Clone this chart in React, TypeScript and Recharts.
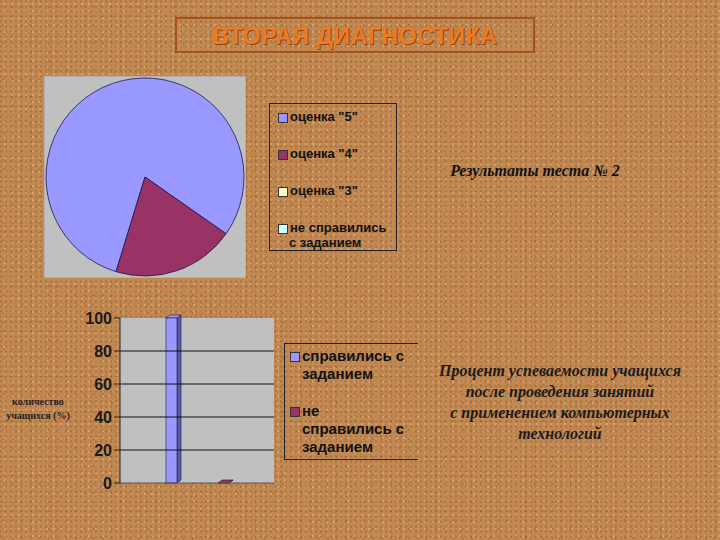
import { PieChart, Pie, Cell, BarChart, Bar, XAxis, YAxis, CartesianGrid, ReferenceLine } from "recharts";

// pie: results of test #2 (percent)
const pieLabels = ['оценка "5"', 'оценка "4"', 'оценка "3"', "не справились с заданием"];
const pieValues = [80, 20, 0, 0];
const pieColors = ["#9999FF", "#993366", "#FFFFCC", "#CCFFFF"];

// bars: share of pupils (%)
const barSeries = ["справились с заданием", "не справились с заданием"];
const barValues = [100, 0];
const barColors = ["#9999FF", "#993366"];
const yTicks = [0, 20, 40, 60, 80, 100];
const gridLines = [20, 40, 60, 80];

const pieData = pieLabels.map((name, i) => ({ name, value: pieValues[i] }));
const barData = [{ cat: "1", s0: barValues[0], s1: barValues[1] }];

const cork =
  "radial-gradient(circle at 20% 30%, rgba(120,70,30,0.35) 0.8px, transparent 1.4px)," +
  "radial-gradient(circle at 70% 60%, rgba(250,210,160,0.35) 0.8px, transparent 1.4px)," +
  "radial-gradient(circle at 40% 80%, rgba(110,60,25,0.3) 0.7px, transparent 1.3px)";

function Bar3D(props: any) {
  const { x, y, width, height, fill, side } = props;
  const dx = 4;
  const dy = 3;
  const h = Math.max(height || 0, 0);
  return (
    <g>
      <polygon
        points={`${x + width},${y} ${x + width + dx},${y - dy} ${x + width + dx},${y + h - dy} ${x + width},${y + h}`}
        fill={side}
        stroke="#1a1a40"
        strokeWidth={0.6}
      />
      <polygon
        points={`${x},${y} ${x + dx},${y - dy} ${x + width + dx},${y - dy} ${x + width},${y}`}
        fill={fill}
        stroke="#1a1a40"
        strokeWidth={0.6}
      />
      {h > 0 && <rect x={x} y={y} width={width} height={h} fill={fill} stroke="#1a1a40" strokeWidth={0.6} />}
    </g>
  );
}

function Marker({ color }: { color: string }) {
  return (
    <span
      style={{
        display: "inline-block",
        width: 8,
        height: 8,
        background: color,
        border: "1px solid #333",
        marginRight: 2,
        verticalAlign: "middle",
      }}
    />
  );
}

const legendFont: React.CSSProperties = {
  fontFamily: "Arial, 'Liberation Sans', sans-serif",
  fontWeight: "bold",
  color: "#111",
};

export default function App() {
  return (
    <div
      style={{
        position: "absolute",
        left: 0,
        top: 0,
        width: 720,
        height: 540,
        overflow: "hidden",
        backgroundColor: "#C28852",
        backgroundImage: cork,
        backgroundSize: "5px 5px, 7px 7px, 9px 9px",
      }}
    >
      {/* title */}
      <div
        style={{
          position: "absolute",
          left: 175,
          top: 17,
          width: 356,
          height: 32,
          border: "2px solid #A5521C",
          textAlign: "center",
          lineHeight: "34px",
          fontFamily: "Arial, 'Liberation Sans', sans-serif",
          fontWeight: "bold",
          fontSize: 23,
          letterSpacing: 0.6,
          color: "#EE7A22",
          textShadow: "1px 1px 0 #8E4412",
        }}
      >
        ВТОРАЯ ДИАГНОСТИКА
      </div>

      {/* pie */}
      <div style={{ position: "absolute", left: 44, top: 76, background: "#C0C0C0", border: "1px solid #B8B0A8" }}>
        <PieChart width={200} height={200} margin={{ top: 0, right: 0, bottom: 0, left: 0 }}>
          <Pie
            data={pieData}
            dataKey="value"
            cx="50%"
            cy="50%"
            outerRadius={99}
            startAngle={-35}
            endAngle={325}
            stroke="#1a1a50"
            strokeWidth={0.8}
            isAnimationActive={false}
            label={false}
            labelLine={false}
          >
            {pieData.map((d, i) => (
              <Cell key={d.name} fill={pieColors[i]} />
            ))}
          </Pie>
        </PieChart>
      </div>

      <div
        style={{
          ...legendFont,
          position: "absolute",
          left: 269,
          top: 103,
          width: 128,
          height: 148,
          border: "1px solid #222",
          fontSize: 13,
          lineHeight: "15px",
          boxSizing: "border-box",
        }}
      >
        {pieLabels.map((l, i) => (
          <div key={l} style={{ position: "absolute", left: 8, top: 5 + i * 37, whiteSpace: "nowrap" }}>
            <Marker color={pieColors[i]} />
            {i === 3 ? (
              <>
                не справились
                <br />
                <span style={{ paddingLeft: 11 }}>с заданием</span>
              </>
            ) : (
              l
            )}
          </div>
        ))}
      </div>

      <div
        style={{
          position: "absolute",
          left: 400,
          top: 162,
          width: 270,
          textAlign: "center",
          fontFamily: "'Liberation Serif', 'DejaVu Serif', serif",
          fontStyle: "italic",
          fontWeight: "bold",
          fontSize: 16,
          color: "#111",
        }}
      >
        Результаты теста № 2
      </div>

      {/* bars */}
      <div style={{ position: "absolute", left: 80, top: 300 }}>
        <BarChart
          width={200}
          height={200}
          data={barData}
          margin={{ top: 18, right: 6, bottom: 0, left: 0 }}
          barGap={41}
          barSize={11}
        >
          <CartesianGrid vertical={false} horizontal={false} fill="#C0C0C0" />
          {gridLines.map((v) => (
            <ReferenceLine key={v} y={v} stroke="#111" strokeWidth={1} />
          ))}
          <XAxis dataKey="cat" tick={false} height={17} stroke="#555" tickSize={4} />
          <YAxis
            domain={[0, 100]}
            ticks={yTicks}
            width={40}
            interval={0}
            stroke="#222"
            tickSize={6}
            tick={{ fontSize: 16, fontWeight: "bold", fill: "#1a1a1a", fontFamily: "Arial, 'Liberation Sans', sans-serif" }}
          />
          <Bar dataKey="s0" name={barSeries[0]} fill={barColors[0]} isAnimationActive={false} shape={(p: any) => <Bar3D {...p} side="#5C5CA8" />} />
          <Bar dataKey="s1" name={barSeries[1]} fill={barColors[1]} isAnimationActive={false} shape={(p: any) => <Bar3D {...p} side="#5E1F3E" />} />
        </BarChart>
      </div>

      <div
        style={{
          position: "absolute",
          left: 4,
          top: 395,
          width: 68,
          textAlign: "center",
          fontFamily: "'Liberation Serif', 'DejaVu Serif', serif",
          fontWeight: "bold",
          fontSize: 10,
          lineHeight: "14px",
          color: "#222",
        }}
      >
        количество
        <br />
        учащихся (%)
      </div>

      <div
        style={{
          ...legendFont,
          position: "absolute",
          left: 284,
          top: 343,
          width: 134,
          height: 117,
          borderTop: "1px solid #222",
          borderLeft: "1px solid #222",
          borderBottom: "1px solid #222",
          fontSize: 15,
          lineHeight: "18px",
          boxSizing: "border-box",
          overflow: "hidden",
        }}
      >
        <div style={{ position: "absolute", left: 5, top: 3, whiteSpace: "nowrap" }}>
          <Marker color={barColors[0]} />
          справились с
          <br />
          <span style={{ paddingLeft: 12 }}>заданием</span>
        </div>
        <div style={{ position: "absolute", left: 5, top: 58, whiteSpace: "nowrap" }}>
          <Marker color={barColors[1]} />
          не
          <br />
          <span style={{ paddingLeft: 12 }}>справились с</span>
          <br />
          <span style={{ paddingLeft: 12 }}>заданием</span>
        </div>
      </div>

      <div
        style={{
          position: "absolute",
          left: 420,
          top: 360,
          width: 280,
          textAlign: "center",
          fontFamily: "'Liberation Serif', 'DejaVu Serif', serif",
          fontStyle: "italic",
          fontWeight: "bold",
          fontSize: 16,
          lineHeight: "21px",
          color: "#1a1a1a",
        }}
      >
        Процент успеваемости учащихся
        <br />
        после проведения занятий
        <br />
        с применением компьютерных
        <br />
        технологий
      </div>
    </div>
  );
}
